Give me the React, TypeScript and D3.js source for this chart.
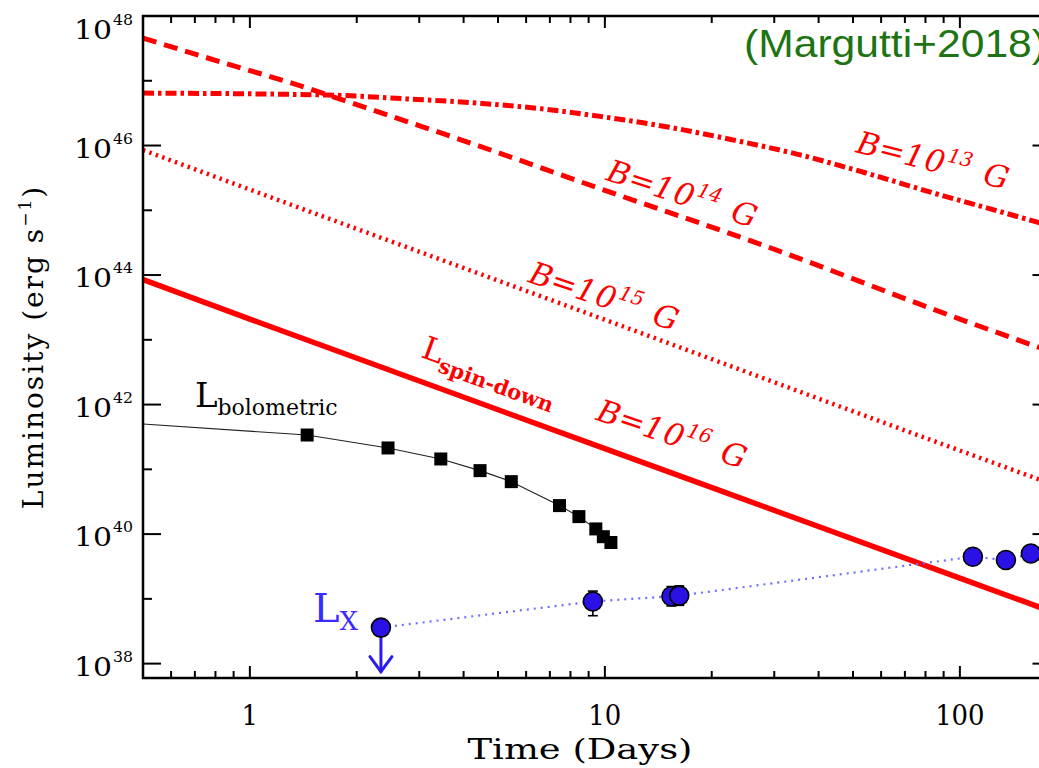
import React from 'react';
import * as d3 from 'd3';

// ---------- data (log10 luminosity in erg/s, time in days) ----------
const xMajorTicks = [1, 10, 100];
const xTickLabels = ['1', '10', '100'];
const yMajorExp = [38, 40, 42, 44, 46, 48];
const yMinorExp = [39, 41, 43, 45, 47];

// magnetar spin-down curves
const b16T = [0.5, 1, 10, 100, 180];
const b16L = [43.93, 43.32, 41.32, 39.32, 38.81];
const b15T = [0.5, 1, 10, 100, 180];
const b15L = [45.93, 45.32, 43.31, 41.29, 40.78];
const b14T = [0.5, 0.84, 1.3, 1.88, 2.77, 3.83, 10.1, 28.6, 100, 180];
const b14L = [47.66, 47.28, 46.97, 46.68, 46.37, 46.11, 45.3, 44.44, 43.32, 42.82];
const b13T = [0.5, 1.65, 2.77, 4.25, 6.56, 9.7, 14.9, 22.8, 35.2, 54.1, 83.9, 129.6, 167, 180];
const b13L = [46.81, 46.78, 46.72, 46.66, 46.57, 46.45, 46.29, 46.09, 45.86, 45.58, 45.27, 44.98, 44.81, 44.76];

// bolometric light curve
const bolLineT = [0.5, 1.45, 2.45, 3.45, 4.45, 5.45, 7.45, 8.45, 9.43, 9.9, 10.4];
const bolLineL = [41.7, 41.53, 41.33, 41.16, 40.98, 40.81, 40.44, 40.27, 40.08, 39.96, 39.87];
const bolT = [1.45, 2.45, 3.45, 4.45, 5.45, 7.45, 8.45, 9.43, 9.9, 10.4];
const bolL = [41.53, 41.33, 41.16, 40.98, 40.81, 40.44, 40.27, 40.08, 39.96, 39.87];

// X-ray luminosity
const lxT = [2.34, 9.25, 15.4, 16.2, 108.8, 134.8, 158.5];
const lxL = [38.556, 38.96, 39.04, 39.05, 39.65, 39.6, 39.7];
const lxErrLo: (number | null)[] = [null, 38.74, 38.89, 38.9, null, null, null];
const lxErrHi: (number | null)[] = [null, 39.12, 39.19, 39.2, null, null, null];
const lxUpperLimit = [true, false, false, false, false, false, false];

// curve labels
const curveLabelNames = ['13', '14', '15', '16'];
const curveLabelT = [50.6, 10, 6.03, 9.37];
const curveLabelL = [45.9, 45.47, 43.895, 41.77];
const curveLabelAngle = [14, 18, 18.5, 18.5];

const W = 1039;
const H = 768;
const left = 143;
const right = 1050.5;
const top = 16;
const bottom = 678;

const serif = 'DejaVu Serif';

export default function App() {
  const x = d3.scaleLog().domain([0.5, 180]).range([left, right]);
  const y = d3.scaleLog().domain([10 ** 37.778, 1e48]).range([bottom, top]);
  const Y = (e: number) => y(10 ** e);

  const line = d3
    .line<[number, number]>()
    .x((d) => x(d[0]))
    .y((d) => Y(d[1]))
    .curve(d3.curveMonotoneX);
  const lin = d3
    .line<[number, number]>()
    .x((d) => x(d[0]))
    .y((d) => Y(d[1]));

  const zip = (a: number[], b: number[]) => a.map((v, i) => [v, b[i]] as [number, number]);

  const xMinor: number[] = [];
  [0.1, 1, 10, 100].forEach((dec) => {
    for (let k = 2; k <= 9; k++) {
      const v = k * dec;
      if (v > 0.5 && v < 180) xMinor.push(v);
    }
  });

  const red = '#ff0000';

  return (
    <svg width={W} height={H} style={{ position: 'absolute', left: 0, top: 0, background: '#fff' }}>
      <defs>
        <clipPath id="plot">
          <rect x={left} y={top} width={right - left} height={bottom - top} />
        </clipPath>
      </defs>
      <rect x={0} y={0} width={W} height={H} fill="#fff" />

      <g clipPath="url(#plot)" fill="none">
        <path d={line(zip(b13T, b13L)) || ''} stroke={red} strokeWidth={5} strokeDasharray="11,4,3.5,4" />
        <path d={line(zip(b14T, b14L)) || ''} stroke={red} strokeWidth={5} strokeDasharray="14,8" />
        <path d={line(zip(b15T, b15L)) || ''} stroke={red} strokeWidth={4.5} strokeDasharray="2.4,4.4" />
        <path d={line(zip(b16T, b16L)) || ''} stroke={red} strokeWidth={5.5} />
        <path d={lin(zip(bolLineT, bolLineL)) || ''} stroke="#222" strokeWidth={1.1} />
        <path d={lin(zip(lxT, lxL)) || ''} stroke="#6f6fff" strokeWidth={2.2} strokeDasharray="2,5" />
      </g>

      {bolT.map((t, i) => (
        <rect key={'b' + i} x={x(t) - 6.5} y={Y(bolL[i]) - 6.5} width={13} height={13} fill="#000" />
      ))}

      {lxT.map((t, i) =>
        lxErrLo[i] != null ? (
          <g key={'e' + i} stroke="#000" strokeWidth={1.6}>
            <line x1={x(t)} x2={x(t)} y1={Y(lxErrLo[i] as number)} y2={Y(lxErrHi[i] as number)} />
            <line x1={x(t) - 5} x2={x(t) + 5} y1={Y(lxErrLo[i] as number)} y2={Y(lxErrLo[i] as number)} />
            <line x1={x(t) - 5} x2={x(t) + 5} y1={Y(lxErrHi[i] as number)} y2={Y(lxErrHi[i] as number)} />
          </g>
        ) : null
      )}
      {lxT.map((t, i) =>
        lxUpperLimit[i] ? (
          <g key={'u' + i} stroke="#2b1bf0" strokeWidth={3} fill="none" strokeLinecap="round">
            <line x1={x(t)} x2={x(t)} y1={Y(lxL[i])} y2={Y(lxL[i]) + 44} />
            <polyline
              points={`${x(t) - 11},${Y(lxL[i]) + 29} ${x(t)},${Y(lxL[i]) + 44} ${x(t) + 11},${Y(lxL[i]) + 29}`}
            />
          </g>
        ) : null
      )}
      {lxT.map((t, i) => (
        <circle key={'c' + i} cx={x(t)} cy={Y(lxL[i])} r={9.5} fill="#2a12e6" stroke="#000" strokeWidth={1.6} />
      ))}

      <rect x={left} y={top} width={right - left} height={bottom - top} fill="none" stroke="#000" strokeWidth={2.5} />

      <g stroke="#000" strokeWidth={2}>
        {xMajorTicks.map((t) => (
          <g key={'xm' + t}>
            <line x1={x(t)} x2={x(t)} y1={bottom} y2={bottom - 12} />
            <line x1={x(t)} x2={x(t)} y1={top} y2={top + 12} />
          </g>
        ))}
        {xMinor.map((t) => (
          <g key={'xn' + t}>
            <line x1={x(t)} x2={x(t)} y1={bottom} y2={bottom - 7} />
            <line x1={x(t)} x2={x(t)} y1={top} y2={top + 7} />
          </g>
        ))}
        {yMajorExp.map((e) => (
          <g key={'ym' + e}>
            <line x1={left} x2={left + 18} y1={Y(e)} y2={Y(e)} />
            <line x1={right} x2={right - 18} y1={Y(e)} y2={Y(e)} />
          </g>
        ))}
        {yMinorExp.map((e) => (
          <g key={'yn' + e}>
            <line x1={left} x2={left + 9} y1={Y(e)} y2={Y(e)} />
            <line x1={right} x2={right - 9} y1={Y(e)} y2={Y(e)} />
          </g>
        ))}
      </g>

      {xMajorTicks.map((t, i) => (
        <text
          key={'xl' + t}
          x={x(t)}
          y={725}
          textAnchor="middle"
          fontFamily={serif}
          fontSize={28}
          fill="#000"
          textLength={xTickLabels[i].length * 16.5}
          lengthAdjust="spacingAndGlyphs"
        >
          {xTickLabels[i]}
        </text>
      ))}

      {yMajorExp.map((e) => {
        const base = Math.max(Y(e) + 12, 39);
        return (
          <g key={'yl' + e} fontFamily={serif} fill="#000">
            <text x={left - 69} y={base} fontSize={26} textLength={38} lengthAdjust="spacingAndGlyphs">
              10
            </text>
            <text x={left - 30} y={base - 14} fontSize={15} textLength={20} lengthAdjust="spacingAndGlyphs">
              {e}
            </text>
          </g>
        );
      })}

      <text x={580} y={759} textAnchor="middle" fontFamily={serif} fontSize={27} textLength={225} lengthAdjust="spacingAndGlyphs">
        Time (Days)
      </text>
      <text
        transform={`translate(43, ${(top + bottom) / 2}) rotate(-90)`}
        textAnchor="middle"
        fontFamily={serif}
        fontSize={28}
        letterSpacing={2}
      >
        Luminosity (erg s<tspan dy={-12} fontSize={17}>−1</tspan>
        <tspan dy={12}>)</tspan>
      </text>

      {curveLabelNames.map((n, i) => (
        <text
          key={'cl' + n}
          transform={`translate(${x(curveLabelT[i])}, ${Y(curveLabelL[i])}) rotate(${curveLabelAngle[i]})`}
          fontFamily={serif}
          fontStyle="italic"
          fontSize={31}
          fill={red}
        >
          B=<tspan letterSpacing={1.5}>10</tspan>
          <tspan dy={-13} fontSize={20}>{n}</tspan>
          <tspan dy={13} dx={14}>G</tspan>
        </text>
      ))}
      <text
        transform={`translate(${x(3.01)}, ${Y(42.74)}) rotate(20)`}
        fontFamily={serif}
        fontSize={32}
        fill={red}
      >
        L<tspan dy={8} fontSize={21} fontWeight="bold">spin-down</tspan>
      </text>

      <text x={x(0.7)} y={Y(41.97)} fontFamily={serif} fontSize={34} fill="#000">
        L<tspan dy={8} fontSize={22}>bolometric</tspan>
      </text>
      <text x={x(1.505)} y={Y(38.65)} fontFamily={serif} fontSize={40} fill="#3a2bff">
        L<tspan dy={8} fontSize={26}>X</tspan>
      </text>

      <text x={744} y={57} fontFamily="Liberation Sans" fontSize={39} fill="#1e7412" textLength={302} lengthAdjust="spacingAndGlyphs">
        (Margutti+2018)
      </text>
    </svg>
  );
}
